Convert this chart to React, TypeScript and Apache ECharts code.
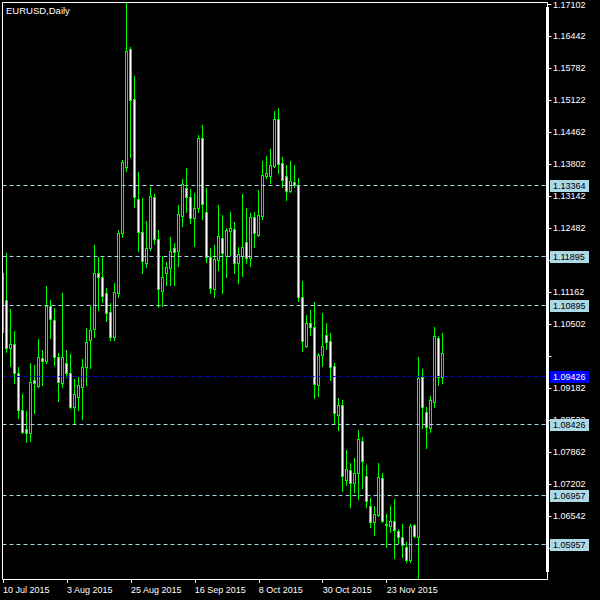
import React, { useEffect, useRef } from 'react';
import * as echarts from 'echarts';

// EURUSD daily sessions, starting Friday 10 Jul 2015
const chartTitle = 'EURUSD,Daily';
const firstSession = '2015-07-10';
const sessionSlots = 136; // drawn sessions plus empty space on the right

const opens = [
  1.10339, 1.11000, 1.10008, 1.10091, 1.09492, 1.08728, 1.08336, 1.08253, 1.09348, 1.09224,
  1.09802, 1.09740, 1.10876, 1.10587, 1.09823, 1.09286, 1.09699, 1.09492, 1.08790, 1.08997,
  1.09203, 1.09616, 1.10174, 1.10401, 1.11557, 1.11475, 1.11144, 1.10752, 1.10236, 1.11144,
  1.12383, 1.13746, 1.16183, 1.15150, 1.13086, 1.12404, 1.11764, 1.12074, 1.13127, 1.12259,
  1.11186, 1.11557, 1.11660, 1.12074, 1.12012, 1.12734, 1.13313, 1.13127, 1.12693, 1.12900,
  1.14345, 1.12817, 1.11888, 1.11227, 1.11826, 1.12280, 1.11908, 1.12425, 1.12466, 1.11764,
  1.11908, 1.12198, 1.11867, 1.12714, 1.12342, 1.12734, 1.13560, 1.13560, 1.13767, 1.14737,
  1.13829, 1.13560, 1.13251, 1.13436, 1.13375, 1.11062, 1.10050, 1.10525, 1.10442, 1.09244,
  1.09864, 1.10277, 1.10153, 1.09637, 1.08625, 1.08831, 1.07282, 1.07489, 1.07220, 1.07427,
  1.08088, 1.07365, 1.06746, 1.06415, 1.06560, 1.07324, 1.06374, 1.06333, 1.06436, 1.06229,
  1.06105, 1.05899, 1.05630, 1.06353, 1.06105, 1.09410, 1.08687, 1.08356, 1.08893, 1.10215,
  1.09410,
];

const closes = [
  1.11557, 1.10008, 1.10091, 1.09492, 1.08728, 1.08274, 1.08253, 1.09306, 1.09286, 1.09823,
  1.09740, 1.10876, 1.10607, 1.09823, 1.09306, 1.09823, 1.09492, 1.08790, 1.09058, 1.09244,
  1.09616, 1.10132, 1.10380, 1.11557, 1.11475, 1.11082, 1.10731, 1.10236, 1.11165, 1.12383,
  1.13849, 1.16142, 1.15130, 1.13127, 1.12404, 1.11805, 1.12074, 1.13147, 1.12259, 1.11227,
  1.11475, 1.11681, 1.12012, 1.11991, 1.12776, 1.13395, 1.13127, 1.12693, 1.12900, 1.14345,
  1.12982, 1.11888, 1.11247, 1.11846, 1.12321, 1.11970, 1.12445, 1.12487, 1.11764, 1.11950,
  1.12094, 1.11867, 1.12714, 1.12383, 1.12755, 1.13581, 1.13622, 1.13788, 1.14737, 1.13808,
  1.13478, 1.13251, 1.13457, 1.13375, 1.11062, 1.10153, 1.10525, 1.10442, 1.09265, 1.09864,
  1.10050, 1.10132, 1.09616, 1.08666, 1.08831, 1.07365, 1.07510, 1.07220, 1.07427, 1.08129,
  1.07675, 1.06849, 1.06415, 1.06580, 1.07344, 1.06436, 1.06353, 1.06436, 1.06250, 1.06105,
  1.05940, 1.05630, 1.06333, 1.06126, 1.09389, 1.08790, 1.08377, 1.08935, 1.10256, 1.09410,
  1.09905,
];

const lows = [
  1.10318, 1.09926, 1.09637, 1.09286, 1.08563, 1.08253, 1.08067, 1.08088, 1.08666, 1.09203,
  1.09244, 1.09699, 1.10215, 1.09657, 1.08914, 1.09203, 1.09410, 1.08769, 1.08460, 1.08728,
  1.08542, 1.09244, 1.09595, 1.10236, 1.10793, 1.10958, 1.10566, 1.10174, 1.10174, 1.11062,
  1.12301, 1.13664, 1.13953, 1.12920, 1.12012, 1.11557, 1.11681, 1.12032, 1.12156, 1.10855,
  1.10876, 1.11309, 1.11309, 1.11309, 1.11702, 1.12528, 1.12817, 1.12590, 1.12115, 1.12817,
  1.12672, 1.11784, 1.11144, 1.11062, 1.11619, 1.11144, 1.11475, 1.11929, 1.11557, 1.11351,
  1.11495, 1.11764, 1.11702, 1.12094, 1.12321, 1.12672, 1.13519, 1.13416, 1.13746, 1.13622,
  1.13333, 1.13065, 1.13230, 1.13333, 1.10979, 1.09946, 1.10029, 1.10277, 1.08976, 1.09017,
  1.09637, 1.09988, 1.09348, 1.08460, 1.08315, 1.07055, 1.07179, 1.06725, 1.07035, 1.06890,
  1.07117, 1.06725, 1.06312, 1.06147, 1.06539, 1.06415, 1.05899, 1.06209, 1.05672, 1.05981,
  1.05692, 1.05589, 1.05589, 1.06105, 1.05238, 1.08356, 1.07943, 1.08274, 1.08790, 1.09244,
  1.09286,
];

const highs = [
  1.11557, 1.11970, 1.10814, 1.10359, 1.09616, 1.09058, 1.08707, 1.09699, 1.09657, 1.10194,
  1.09967, 1.11289, 1.11000, 1.10834, 1.09905, 1.11144, 1.09967, 1.09884, 1.09368, 1.09410,
  1.09781, 1.10421, 1.10876, 1.12136, 1.11888, 1.11888, 1.11247, 1.10938, 1.11351, 1.12445,
  1.13891, 1.17133, 1.16224, 1.15625, 1.13643, 1.13106, 1.12631, 1.13333, 1.13189, 1.12445,
  1.11908, 1.11784, 1.12301, 1.12177, 1.12962, 1.13498, 1.13726, 1.13292, 1.13209, 1.14407,
  1.14614, 1.13313, 1.12074, 1.12136, 1.12962, 1.12755, 1.12487, 1.12817, 1.12610, 1.12094,
  1.13189, 1.12900, 1.12796, 1.12817, 1.13271, 1.13870, 1.13973, 1.14118, 1.14903, 1.14965,
  1.13953, 1.13788, 1.13870, 1.13788, 1.13519, 1.11392, 1.10690, 1.10793, 1.10958, 1.09905,
  1.10731, 1.10525, 1.10318, 1.09699, 1.08976, 1.08935, 1.07902, 1.07634, 1.07737, 1.08315,
  1.08170, 1.07592, 1.06911, 1.06746, 1.07634, 1.07427, 1.06580, 1.06746, 1.06890, 1.06271,
  1.06374, 1.06002, 1.06374, 1.06374, 1.09823, 1.09575, 1.08790, 1.09017, 1.10442, 1.10256,
  1.10318,
];

// price scale
const priceMin = 1.05238;
const priceMax = 1.17154;
const priceTicks = [
  1.17102, 1.16442, 1.15782, 1.15122, 1.14462, 1.13802, 1.13142, 1.12482, 1.11822,
  1.11162, 1.10502, 1.09842, 1.09182, 1.08522, 1.07862, 1.07202, 1.06542, 1.05882,
];
const hiddenTickLabels = [1.09842];

// horizontal price levels and the current bid
const levelLines = [1.13364, 1.11895, 1.10895, 1.08426, 1.06957, 1.05957];
const bidPrice = 1.09426;

const MONTHS = ['Jan', 'Feb', 'Mar', 'Apr', 'May', 'Jun', 'Jul', 'Aug', 'Sep', 'Oct', 'Nov', 'Dec'];
const FONT = '"Liberation Sans", Arial, sans-serif';
const CANDLE_EDGE = '#00ff00';

function sessionDates(start: string, count: number): string[] {
  const out: string[] = [];
  const d = new Date(start + 'T00:00:00Z');
  while (out.length < count) {
    const wd = d.getUTCDay();
    if (wd !== 0 && wd !== 6) {
      out.push(`${d.getUTCDate()} ${MONTHS[d.getUTCMonth()]} ${d.getUTCFullYear()}`);
    }
    d.setUTCDate(d.getUTCDate() + 1);
  }
  return out;
}

// one candle: wick, 3px green body, 1px inner fill (black = up day, white = down day)
function renderCandle(_params: any, api: any) {
  const i = api.value(0);
  const o = api.value(1);
  const c = api.value(2);
  const l = api.value(3);
  const h = api.value(4);
  const pO = api.coord([i, o]);
  const xc = Math.floor(pO[0]) + 0.5;
  const yO = Math.round(pO[1]);
  const yC = Math.round(api.coord([i, c])[1]);
  const yL = Math.round(api.coord([i, l])[1]);
  const yH = Math.round(api.coord([i, h])[1]);
  const top = Math.min(yO, yC);
  const bot = Math.max(yO, yC);
  const children: any[] = [
    {
      type: 'line',
      shape: { x1: xc, y1: yH, x2: xc, y2: yL + 1 },
      style: { stroke: CANDLE_EDGE, lineWidth: 1 },
    },
    {
      type: 'rect',
      shape: { x: xc - 1.5, y: top, width: 3, height: bot - top + 1 },
      style: { fill: CANDLE_EDGE },
    },
  ];
  if (bot - top >= 2) {
    children.push({
      type: 'rect',
      shape: { x: xc - 0.5, y: top + 1, width: 1, height: bot - top - 1 },
      style: { fill: c >= o ? '#000000' : '#ffffff' },
    });
  }
  return { type: 'group', children };
}

// dashed price level across the plot plus its price box on the scale
function renderLevel(params: any, api: any) {
  const v = api.value(1);
  const isBid = api.value(2) === 1;
  const cs = params.coordSys;
  const yPix = Math.floor(api.coord([0, v])[1]);
  const y = yPix + 0.5;
  return {
    type: 'group',
    children: [
      {
        type: 'line',
        shape: { x1: cs.x + 1.5, y1: y, x2: 546, y2: y },
        style: { stroke: isBid ? '#0000e0' : '#add8e6', lineWidth: 1, lineDash: [4, 3] },
      },
      {
        type: 'rect',
        shape: { x: 550, y: yPix - 5, width: 39, height: 12 },
        style: { fill: isBid ? '#0000ff' : '#add8e6' },
      },
      {
        type: 'text',
        x: 553,
        y: yPix + 1,
        style: {
          text: v.toFixed(5),
          fill: isBid ? '#ffffff' : '#000000',
          font: `9px ${FONT}`,
          align: 'left',
          verticalAlign: 'middle',
        },
      },
    ],
  };
}

export default function App() {
  const ref = useRef<HTMLDivElement>(null);

  useEffect(() => {
    if (!ref.current) return;
    const chart = echarts.init(ref.current, null, { renderer: 'svg' });

    const dates = sessionDates(firstSession, sessionSlots);
    const lastBar = opens.length - 1;
    const candles = opens.map((o, i) => [i, o, closes[i], lows[i], highs[i]]);
    const levels = [
      ...levelLines.map((v) => [0, v, 0]),
      [0, bidPrice, 1],
    ];
    const showDate = (i: number) => i % 16 === 0 && i <= lastBar;

    chart.setOption({
      animation: false,
      backgroundColor: '#000000',
      textStyle: { fontFamily: FONT },
      grid: { left: 0.5, top: 2, width: 544, height: 577, containLabel: false },
      xAxis: {
        type: 'category',
        data: dates,
        boundaryGap: true,
        axisLine: { show: false },
        axisTick: {
          show: true,
          alignWithLabel: true,
          interval: (i: number) => showDate(i),
          length: 4,
          lineStyle: { color: '#ffffff', width: 1 },
        },
        axisLabel: {
          show: true,
          interval: (i: number) => showDate(i),
          color: '#ffffff',
          fontFamily: FONT,
          fontSize: 9,
          lineHeight: 9,
          margin: 6,
          align: 'left',
        },
        splitLine: { show: false },
      },
      yAxis: {
        type: 'value',
        position: 'right',
        offset: 3,
        min: priceMin,
        max: priceMax,
        axisLine: { show: false },
        axisTick: {
          show: true,
          length: 4,
          customValues: priceTicks,
          lineStyle: { color: '#ffffff', width: 1 },
        },
        axisLabel: {
          show: true,
          customValues: priceTicks.filter((v) => !hiddenTickLabels.includes(v)),
          formatter: (v: number) => v.toFixed(5),
          color: '#ffffff',
          fontFamily: FONT,
          fontSize: 9,
          margin: 5.5,
          align: 'left',
        },
        splitLine: { show: false },
      },
      series: [
        {
          type: 'custom',
          name: 'EURUSD',
          data: candles,
          encode: { x: 0, y: [1, 2, 3, 4] },
          clip: true,
          renderItem: renderCandle,
          z: 2,
        },
        {
          type: 'custom',
          name: 'levels',
          data: levels,
          encode: { x: 0, y: 1 },
          clip: false,
          silent: true,
          renderItem: renderLevel,
          z: 3,
        },
      ],
      graphic: [
        {
          type: 'rect',
          z: 50,
          shape: { x: 0, y: 0, width: 2, height: 580 },
          style: { fill: '#000000' },
        },
        {
          type: 'rect',
          z: 51,
          shape: { x: 2.5, y: 2.5, width: 545, height: 577 },
          style: { fill: 'none', stroke: '#ffffff', lineWidth: 1 },
        },
        {
          type: 'rect',
          z: 51,
          shape: { x: 546, y: 7, width: 3, height: 565 },
          style: { fill: '#ffffff' },
        },
        {
          type: 'text',
          z: 52,
          x: 6,
          y: 5,
          style: {
            text: chartTitle,
            fill: '#ffffff',
            font: `9.5px ${FONT}`,
            textVerticalAlign: 'top',
          },
        },
      ],
    });

    return () => chart.dispose();
  }, []);

  return (
    <div
      ref={ref}
      style={{ position: 'absolute', left: 0, top: 0, width: 600, height: 600, background: '#000' }}
    />
  );
}
